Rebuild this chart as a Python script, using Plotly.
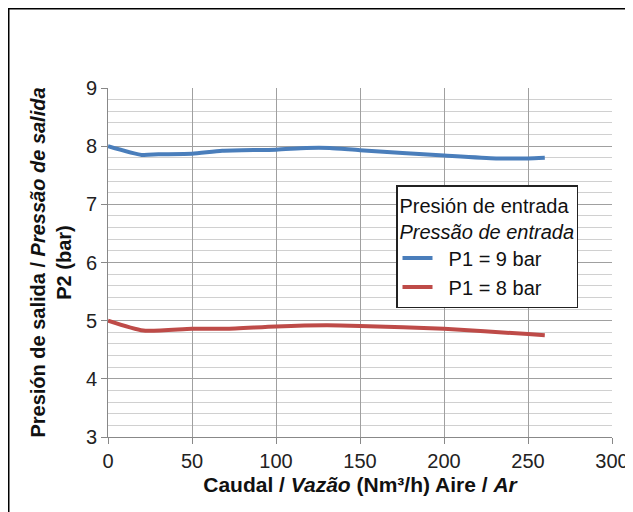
import plotly.graph_objects as go

# Data
x_p9 = [0, 20, 30, 50, 68, 100, 118, 132, 150, 200, 231, 250, 260]
y_p9 = [8.00, 7.85, 7.86, 7.87, 7.92, 7.94, 7.97, 7.97, 7.93, 7.84, 7.79, 7.79, 7.80]
x_p8 = [0, 21, 50, 70, 100, 130, 150, 200, 250, 260]
y_p8 = [5.00, 4.83, 4.86, 4.86, 4.90, 4.92, 4.91, 4.86, 4.77, 4.75]

series_names = ["P1 = 9 bar", "P1 = 8 bar"]
series_colors = ["#4A7EBB", "#BE4B48"]

legend_title = "Presión de entrada<br><i>Pressão de entrada</i>"
x_title = "<b>Caudal / <i>Vazão</i> (Nm³/h) Aire / <i>Ar</i></b>"
y_title = "<b>Presión de salida / <i>Pressão de salida</i><br>P2 (bar)</b>"

FONT = "Liberation Sans, Arial, sans-serif"

fig = go.Figure()
for xs, ys, name, col in [(x_p9, y_p9, series_names[0], series_colors[0]),
                          (x_p8, y_p8, series_names[1], series_colors[1])]:
    fig.add_trace(go.Scatter(x=xs, y=ys, mode="lines", name="\u00a0\u00a0" + name,
                             line=dict(color=col, width=4, shape="spline", smoothing=0.6)))

# The page has an 8px body margin, so the figure is sized/offset to compensate
OFF = 8
W, H = 633 - OFF, 512 - OFF
L = 108 - OFF
T = 88 - OFF
R = W - (612 - OFF)
B = H - (437 - OFF)
pw, ph = W - L - R, H - T - B

def px_x(p):
    return (p - OFF - L) / pw

def px_y(p):
    return (H - B - (p - OFF)) / ph

fig.update_layout(
    width=W, height=H,
    margin=dict(l=L, r=R, t=T, b=B, pad=0, autoexpand=False),
    paper_bgcolor="white", plot_bgcolor="white",
    font=dict(family=FONT, size=20, color="#222222"),
    showlegend=True,
    legend=dict(
        title=dict(text=legend_title, font=dict(size=20, color="#111111")),
        x=px_x(396), y=px_y(185), xanchor="left", yanchor="top",
        bgcolor="white", bordercolor="#222222", borderwidth=1.5,
        font=dict(size=20, color="#111111"),
        itemwidth=30, tracegroupgap=0,
    ),
    xaxis=dict(
        range=[0, 300], dtick=50, tick0=0, automargin=False,
        showgrid=True, gridcolor="#A0A0A0", gridwidth=1,
        showline=True, linecolor="#888888", linewidth=1,
        ticks="outside", ticklen=6, tickcolor="#888888",
        zeroline=False,
        title=dict(text=x_title, font=dict(size=21, color="#111111"), standoff=6),
        tickfont=dict(size=20),
    ),
    yaxis=dict(
        range=[3, 9], dtick=1, tick0=3, automargin=False,
        showgrid=True, gridcolor="#A0A0A0", gridwidth=1,
        showline=True, linecolor="#888888", linewidth=1,
        ticks="outside", ticklen=6, tickcolor="#888888",
        zeroline=False,
        minor=dict(dtick=0.2, showgrid=True, gridcolor="#D0D0D0", gridwidth=1, ticks=""),
        title=dict(text=y_title, font=dict(size=20, color="#111111"), standoff=8),
        tickfont=dict(size=20),
    ),
)

# Outer black frame of the picture
fig.add_shape(type="rect", xref="paper", yref="paper",
              x0=(0.5 - L) / pw, x1=(W + 20 - L) / pw,
              y0=(H - B - (H + 20)) / ph, y1=(H - B - 0.5) / ph,
              line=dict(color="black", width=2), fillcolor="rgba(0,0,0,0)", layer="above")

fig.write_html("out.html")
